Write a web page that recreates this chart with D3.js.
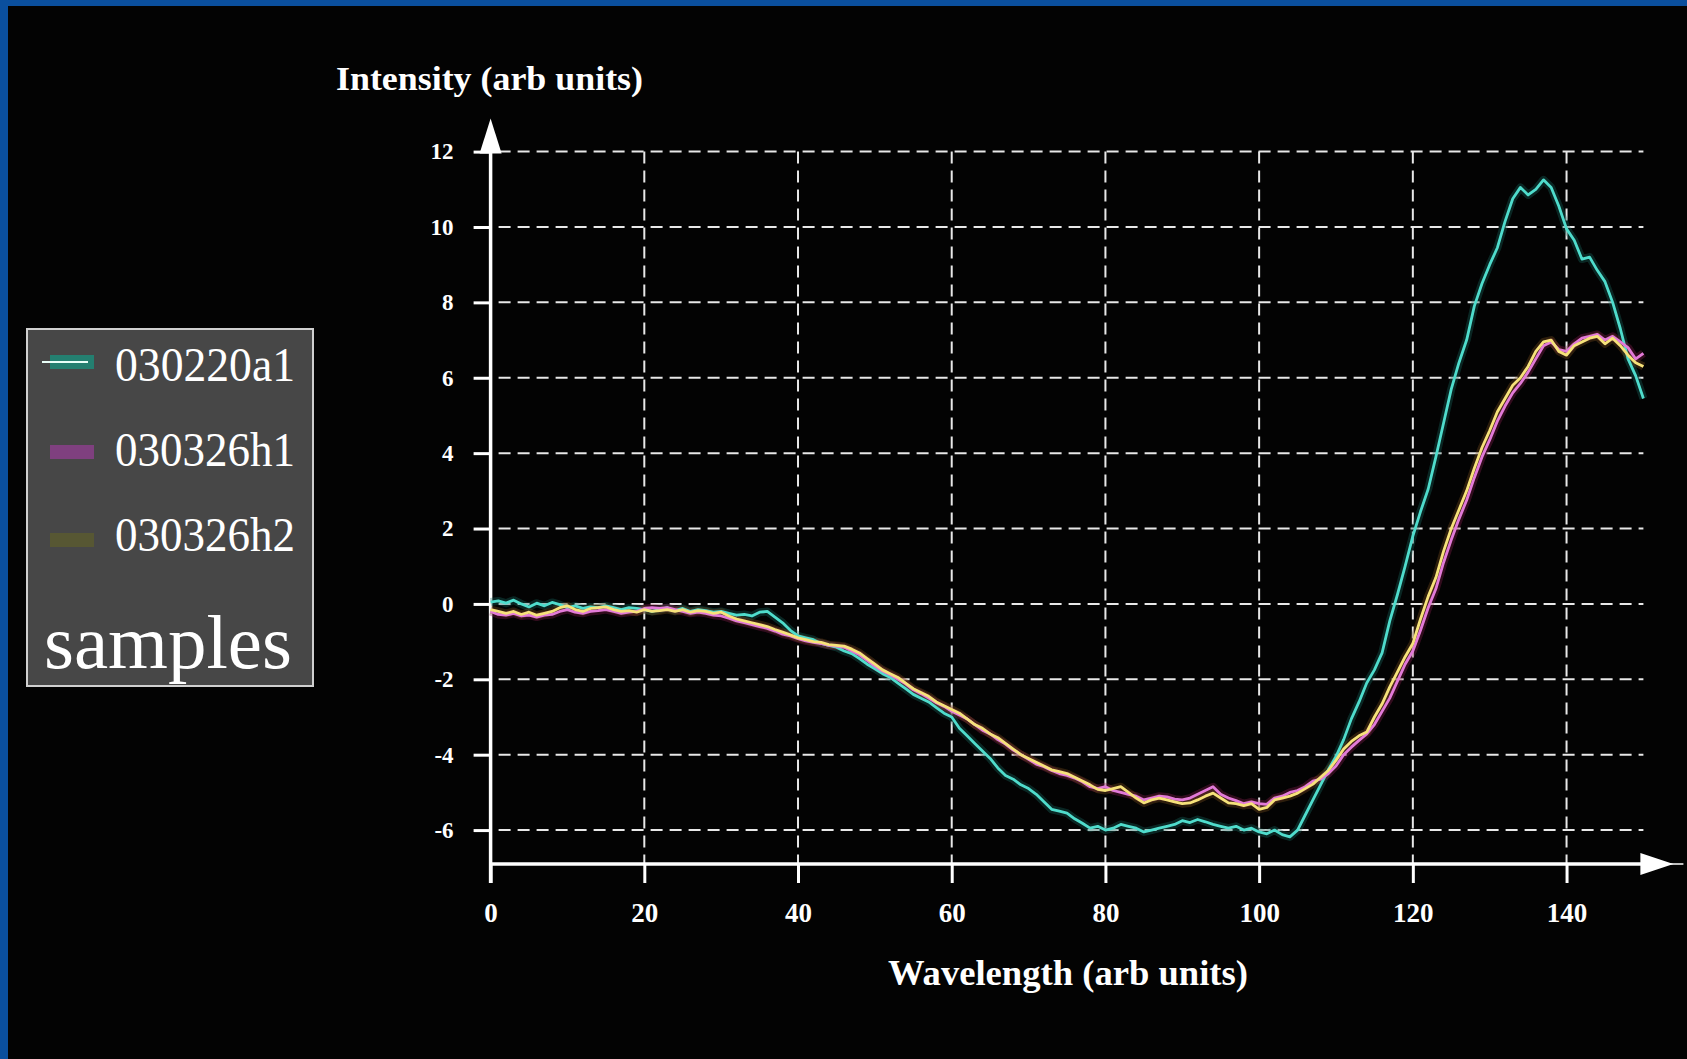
<!DOCTYPE html>
<html>
<head>
<meta charset="utf-8">
<script src="https://cdn.jsdelivr.net/npm/d3@7"></script>
<style>
  html, body { margin: 0; padding: 0; background: #030303; overflow: hidden; }
  svg { display: block; }
  text { font-family: "Liberation Serif", "DejaVu Serif", serif; fill: #ffffff; }
</style>
</head>
<body>
<svg id="chart" width="1687" height="1059"></svg>
<script>
// ---------------- data ----------------
const seriesNames = ["030220a1", "030326h1", "030326h2"];
const seriesColors = ["#4fdccc", "#e27ad8", "#f6e27a"];
const legendSwatchColors = ["#1f8a78", "#8a3f8a", "#5a5a30"];
const xTicks = [0, 20, 40, 60, 80, 100, 120, 140];
const yTicks = [-6, -4, -2, 0, 2, 4, 6, 8, 10, 12];
const xTitle = "Wavelength (arb units)";
const yTitle = "Intensity (arb units)";
const legendTitle = "samples";

const wavelength = [
  0,1,2,3,4,5,6,7,8,9,10,11,12,13,14,15,16,17,18,19,
  20,21,22,23,24,25,26,27,28,29,30,31,32,33,34,35,36,37,38,39,
  40,41,42,43,44,45,46,47,48,49,50,51,52,53,54,55,56,57,58,59,
  60,61,62,63,64,65,66,67,68,69,70,71,72,73,74,75,76,77,78,79,
  80,81,82,83,84,85,86,87,88,89,90,91,92,93,94,95,96,97,98,99,
  100,101,102,103,104,105,106,107,108,109,110,111,112,113,114,115,116,117,118,119,
  120,121,122,123,124,125,126,127,128,129,130,131,132,133,134,135,136,137,138,139,
  140,141,142,143,144,145,146,147,148,149,150
];

const a1 = [
  0.05,0.08,0.02,0.10,0.00,-0.08,0.02,-0.05,0.04,-0.02,
  -0.10,-0.05,-0.12,-0.08,-0.10,-0.05,-0.10,-0.15,-0.10,-0.12,
  -0.15,-0.20,-0.15,-0.10,-0.18,-0.12,-0.20,-0.15,-0.18,-0.22,
  -0.20,-0.25,-0.30,-0.28,-0.32,-0.22,-0.20,-0.35,-0.50,-0.70,
  -0.85,-0.90,-0.95,-1.05,-1.10,-1.15,-1.25,-1.32,-1.45,-1.60,
  -1.72,-1.85,-1.95,-2.10,-2.25,-2.40,-2.50,-2.60,-2.75,-2.90,
  -3.00,-3.30,-3.50,-3.70,-3.90,-4.10,-4.35,-4.55,-4.65,-4.80,
  -4.90,-5.05,-5.25,-5.45,-5.50,-5.55,-5.70,-5.82,-5.95,-5.90,
  -6.00,-5.95,-5.85,-5.90,-5.95,-6.05,-6.00,-5.95,-5.90,-5.85,
  -5.75,-5.80,-5.72,-5.78,-5.85,-5.90,-5.95,-5.90,-6.00,-5.95,
  -6.05,-6.10,-6.00,-6.12,-6.18,-6.00,-5.60,-5.20,-4.80,-4.40,
  -4.05,-3.60,-3.05,-2.60,-2.10,-1.75,-1.30,-0.45,0.25,1.00,
  1.80,2.45,3.05,3.90,4.80,5.70,6.40,7.00,7.90,8.50,
  9.00,9.45,10.15,10.75,11.05,10.85,11.00,11.25,11.05,10.55,
  9.95,9.65,9.15,9.20,8.85,8.55,8.00,7.30,6.50,6.05,
  5.45
];

const h1 = [
  -0.20,-0.28,-0.30,-0.25,-0.32,-0.30,-0.35,-0.30,-0.28,-0.20,
  -0.15,-0.22,-0.25,-0.20,-0.18,-0.15,-0.20,-0.25,-0.22,-0.20,
  -0.12,-0.10,-0.12,-0.10,-0.15,-0.20,-0.25,-0.22,-0.25,-0.30,
  -0.32,-0.38,-0.45,-0.50,-0.55,-0.60,-0.65,-0.72,-0.80,-0.85,
  -0.92,-0.98,-1.02,-1.05,-1.10,-1.12,-1.15,-1.25,-1.35,-1.50,
  -1.65,-1.78,-1.88,-2.00,-2.12,-2.28,-2.38,-2.50,-2.62,-2.72,
  -2.85,-2.95,-3.05,-3.20,-3.35,-3.45,-3.60,-3.72,-3.88,-4.00,
  -4.12,-4.25,-4.32,-4.42,-4.50,-4.55,-4.62,-4.72,-4.85,-4.90,
  -4.85,-4.95,-5.00,-5.05,-5.10,-5.20,-5.15,-5.10,-5.12,-5.18,
  -5.20,-5.15,-5.05,-4.95,-4.85,-5.05,-5.15,-5.22,-5.30,-5.25,
  -5.30,-5.32,-5.15,-5.10,-5.00,-4.95,-4.85,-4.70,-4.65,-4.50,
  -4.30,-4.00,-3.80,-3.62,-3.45,-3.20,-2.85,-2.50,-2.05,-1.60,
  -1.25,-0.70,-0.10,0.40,1.10,1.70,2.25,2.75,3.35,3.90,
  4.35,4.85,5.25,5.60,5.85,6.15,6.50,6.85,6.95,6.75,
  6.70,6.90,7.05,7.10,7.15,7.00,7.10,6.95,6.80,6.50,
  6.65
];

const h2 = [
  -0.15,-0.20,-0.25,-0.20,-0.28,-0.22,-0.30,-0.25,-0.20,-0.10,
  -0.05,-0.15,-0.20,-0.12,-0.10,-0.08,-0.15,-0.20,-0.18,-0.22,
  -0.15,-0.20,-0.18,-0.15,-0.20,-0.15,-0.22,-0.18,-0.20,-0.25,
  -0.22,-0.32,-0.40,-0.45,-0.50,-0.55,-0.60,-0.68,-0.75,-0.82,
  -0.90,-0.95,-1.00,-1.02,-1.08,-1.10,-1.12,-1.20,-1.30,-1.45,
  -1.60,-1.75,-1.85,-1.95,-2.10,-2.25,-2.35,-2.45,-2.60,-2.70,
  -2.80,-2.90,-3.05,-3.20,-3.30,-3.45,-3.55,-3.70,-3.85,-4.00,
  -4.10,-4.20,-4.30,-4.40,-4.45,-4.50,-4.60,-4.70,-4.80,-4.92,
  -4.95,-4.90,-4.85,-5.00,-5.15,-5.28,-5.20,-5.15,-5.20,-5.25,
  -5.30,-5.28,-5.20,-5.10,-5.02,-5.15,-5.28,-5.30,-5.35,-5.30,
  -5.45,-5.40,-5.20,-5.15,-5.10,-5.02,-4.90,-4.78,-4.60,-4.42,
  -4.15,-3.85,-3.65,-3.50,-3.40,-3.00,-2.65,-2.20,-1.80,-1.40,
  -1.05,-0.40,0.20,0.70,1.40,2.00,2.50,3.00,3.60,4.15,
  4.60,5.10,5.45,5.80,6.00,6.30,6.70,6.95,7.00,6.70,
  6.60,6.85,6.95,7.05,7.10,6.90,7.05,6.85,6.60,6.40,
  6.30
];

const seriesValues = [a1, h1, h2];

// ---------------- drawing ----------------
const W = 1687, H = 1059;
const svg = d3.select("#chart");

// background + blue frame (top and left)
svg.append("rect").attr("x", 0).attr("y", 0).attr("width", W).attr("height", H).attr("fill", "#030303");
svg.append("rect").attr("x", 0).attr("y", 0).attr("width", W).attr("height", 6).attr("fill", "#0a4f9e");
svg.append("rect").attr("x", 0).attr("y", 0).attr("width", 8).attr("height", H).attr("fill", "#0a4f9e");

const x = d3.scaleLinear().domain([0, 150]).range([490.6, 1643.4]);
const y = d3.scaleLinear().domain([-6.9, 12]).range([864, 151.6]);

const g = svg.append("g");

// gridlines
const gridColor = "#e8e8e8";
g.append("g").selectAll("line").data(yTicks).join("line")
  .attr("x1", x(0) + 8).attr("x2", x(150))
  .attr("y1", d => y(d)).attr("y2", d => y(d))
  .attr("stroke", gridColor).attr("stroke-width", 2)
  .attr("stroke-dasharray", "12,7");
g.append("g").selectAll("line").data(xTicks.filter(d => d > 0)).join("line")
  .attr("x1", d => x(d)).attr("x2", d => x(d))
  .attr("y1", y(12)).attr("y2", y(-6.9))
  .attr("stroke", gridColor).attr("stroke-width", 2)
  .attr("stroke-dasharray", "12,7");

// axes via d3 axis generators
const xAxis = d3.axisBottom(x).tickValues(xTicks).tickSize(19).tickPadding(20).tickFormat(d3.format("d"));
const gx = g.append("g").attr("transform", `translate(0,${y(-6.9)})`).call(xAxis);
gx.select(".domain").remove();
gx.selectAll(".tick line").attr("stroke", "#ffffff").attr("stroke-width", 3);
gx.selectAll(".tick text")
  .attr("fill", "#ffffff")
  .style("font-family", "'Liberation Serif', serif")
  .style("font-weight", "bold")
  .style("font-size", "27px");

const yAxis = d3.axisLeft(y).tickValues(yTicks).tickSize(17).tickPadding(20).tickFormat(d => d < 0 ? "-" + Math.abs(d) : String(d));
const gy = g.append("g").attr("transform", `translate(${x(0)},0)`).call(yAxis);
gy.select(".domain").remove();
gy.selectAll(".tick line").attr("stroke", "#ffffff").attr("stroke-width", 3);
gy.selectAll(".tick text")
  .attr("fill", "#ffffff")
  .style("font-family", "'Liberation Serif', serif")
  .style("font-weight", "bold")
  .style("font-size", "23px");

// axis lines with arrows
const x0 = x(0), yBase = y(-6.9);
g.append("line").attr("x1", x0).attr("x2", x(150) + 2).attr("y1", yBase).attr("y2", yBase)
  .attr("stroke", "#ffffff").attr("stroke-width", 3.5);
g.append("line").attr("x1", x(150)).attr("x2", x(150) + 40).attr("y1", yBase).attr("y2", yBase)
  .attr("stroke", "#ffffff").attr("stroke-width", 1.5);
g.append("path")
  .attr("d", `M${x(150) - 3},${yBase - 11} L${x(150) + 30},${yBase} L${x(150) - 3},${yBase + 11} Z`)
  .attr("fill", "#ffffff");

g.append("line").attr("x1", x0).attr("x2", x0).attr("y1", yBase + 19).attr("y2", y(12) - 4)
  .attr("stroke", "#ffffff").attr("stroke-width", 3.5);
g.append("path")
  .attr("d", `M${x0 - 11},${y(12) + 2} L${x0},${y(12) - 33} L${x0 + 11},${y(12) + 2} Z`)
  .attr("fill", "#ffffff");

// series lines
const line = d3.line().x((d, i) => x(wavelength[i])).y(d => y(d));
const order = [0, 1, 2];
// soft chroma glow
g.append("g").selectAll("path").data(order).join("path")
  .attr("d", i => line(seriesValues[i]))
  .attr("fill", "none")
  .attr("stroke", i => ["#1a6a60", "#8a2050", "#7a5020"][i])
  .attr("stroke-width", 8)
  .attr("stroke-opacity", 0.35)
  .attr("stroke-linejoin", "round");
g.append("g").selectAll("path").data(order).join("path")
  .attr("d", i => line(seriesValues[i]))
  .attr("fill", "none")
  .attr("stroke", i => seriesColors[i])
  .attr("stroke-width", 2.8)
  .attr("stroke-linejoin", "round");

// axis titles
svg.append("text").attr("x", 336).attr("y", 90)
  .attr("textLength", 307).attr("lengthAdjust", "spacingAndGlyphs")
  .style("font-weight", "bold").style("font-size", "34px").text(yTitle);
svg.append("text").attr("x", 888).attr("y", 985)
  .attr("textLength", 360).attr("lengthAdjust", "spacingAndGlyphs")
  .style("font-weight", "bold").style("font-size", "35px").text(xTitle);

// legend
const lg = svg.append("g");
lg.append("rect").attr("x", 27).attr("y", 329).attr("width", 286).attr("height", 357)
  .attr("fill", "#474747").attr("stroke", "#d0d0d0").attr("stroke-width", 2);
const legendY = [362, 452, 540];
lg.selectAll("rect.sw").data(seriesNames).join("rect").attr("class", "sw")
  .attr("x", 50).attr("y", (d, i) => legendY[i] - 7).attr("width", 44).attr("height", 14)
  .attr("fill", (d, i) => legendSwatchColors[i]).attr("opacity", 0.85);
lg.append("line").attr("x1", 42).attr("x2", 88).attr("y1", legendY[0]).attr("y2", legendY[0])
  .attr("stroke", "#e8fff8").attr("stroke-width", 2);
lg.selectAll("text.lt").data(seriesNames).join("text").attr("class", "lt")
  .attr("x", 115).attr("y", (d, i) => [381, 466, 551][i])
  .attr("textLength", 180).attr("lengthAdjust", "spacingAndGlyphs")
  .style("font-size", "49px").text(d => d);
lg.append("text").attr("x", 44).attr("y", 668)
  .attr("textLength", 248).attr("lengthAdjust", "spacingAndGlyphs")
  .style("font-size", "76px").text(legendTitle);
</script>
</body>
</html>
